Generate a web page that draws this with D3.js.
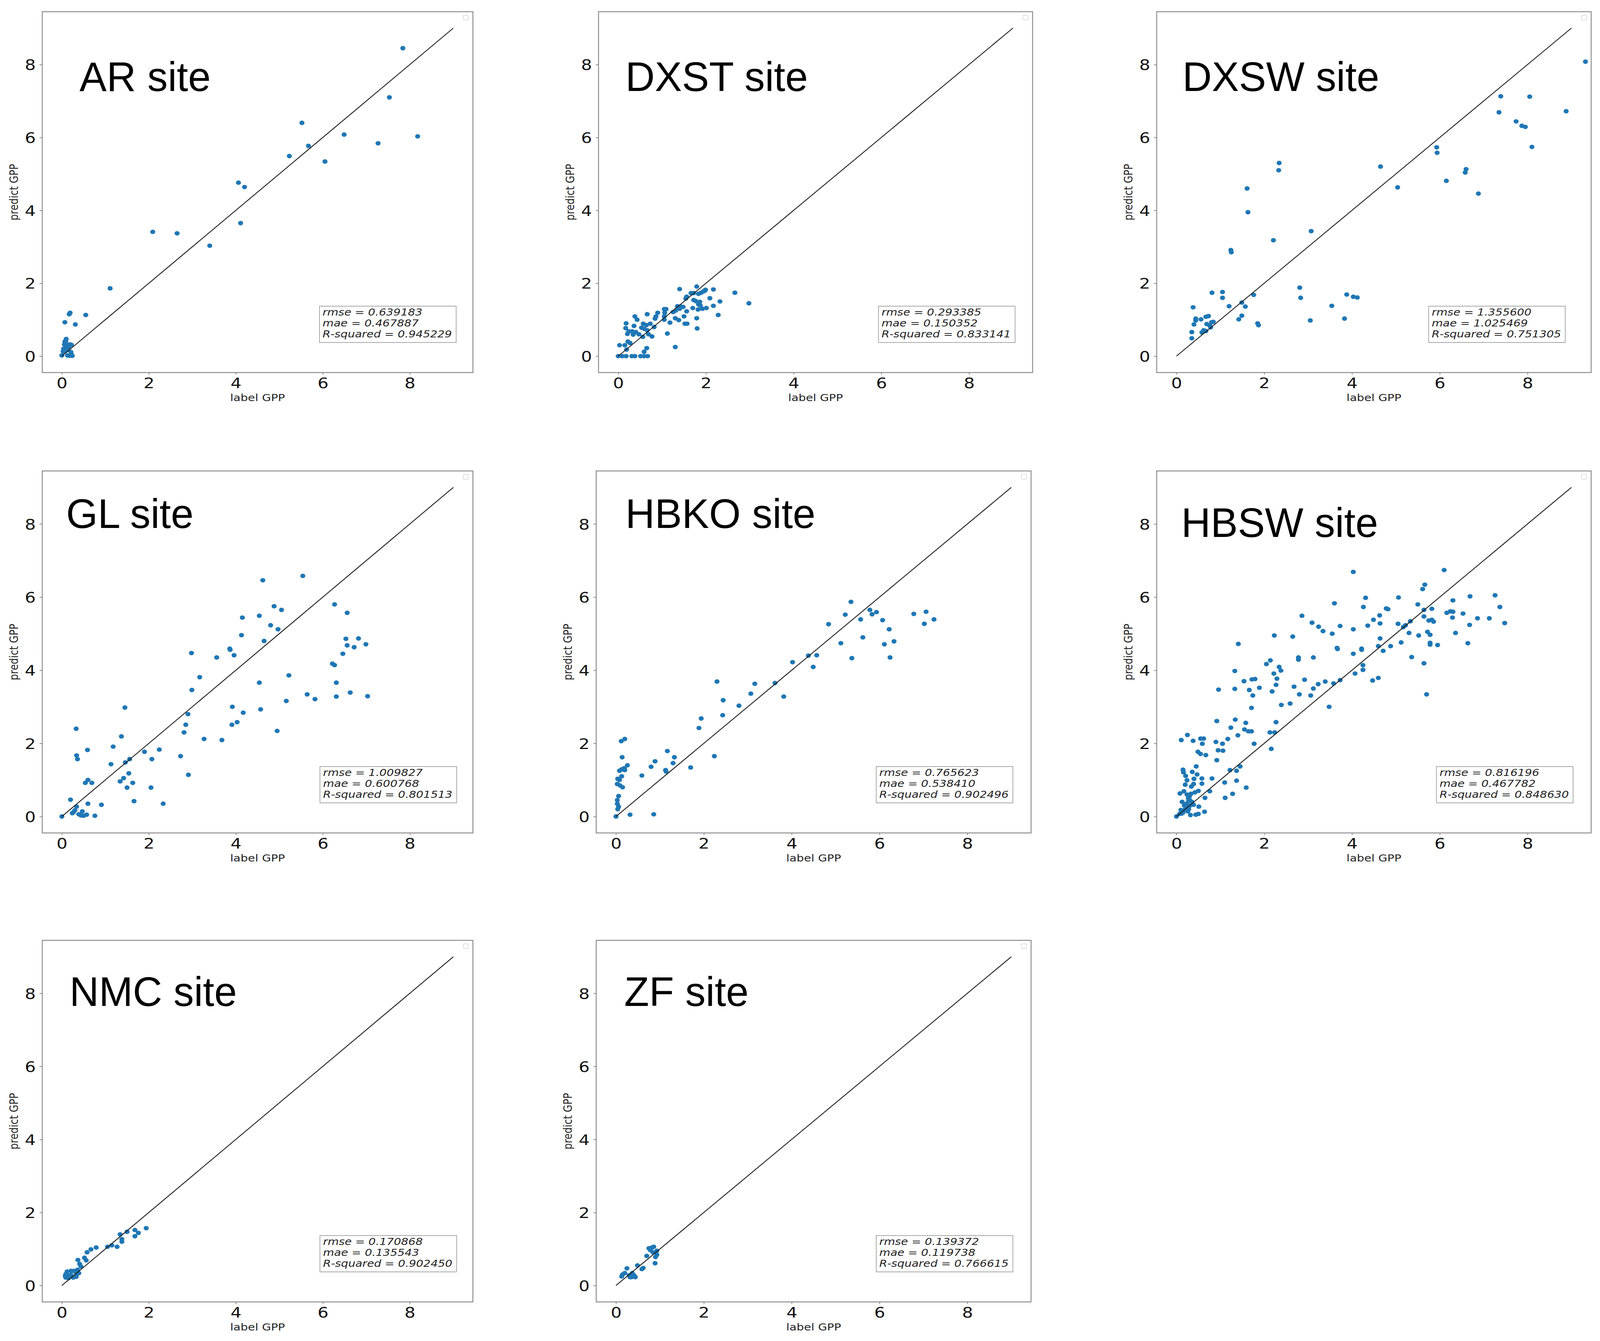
<!DOCTYPE html>
<html>
<head>
<meta charset="utf-8">
<script src="https://cdn.jsdelivr.net/npm/d3@7"></script>
<style>
  html, body { margin: 0; padding: 0; background: #fff; overflow: hidden; }
  svg { display: block; }
</style>
</head>
<body>
<div class="container"></div>
<script>
// ---- data ----
const siteNames = ["AR site", "DXST site", "DXSW site", "GL site", "HBKO site", "HBSW site", "NMC site", "ZF site"];

// [label GPP, predict GPP]
const arPoints = [
  [7.84,8.45],[7.53,7.10],[5.52,6.40],[5.67,5.77],[6.49,6.08],[8.18,6.03],[7.27,5.84],[5.23,5.49],[6.05,5.34],
  [4.06,4.76],[4.20,4.64],[4.11,3.65],[2.09,3.41],[2.65,3.37],[3.40,3.03],[1.11,1.86],[0.19,1.19],[0.17,1.15],
  [0.55,1.13],[0.07,0.93],[0.31,0.87],
  [0.10,0.47],[0.07,0.40],[0.09,0.41],[0.06,0.32],[0.10,0.34],[0.04,0.20],[0.03,0.13],[0.00,0.02],[0.09,0.27],
  [0.13,0.31],[0.19,0.32],[0.22,0.31],[0.16,0.22],[0.13,0.17],[0.21,0.11],[0.22,0.04],[0.18,0.01],[0.13,0.02],
  [0.24,0.01],[0.07,0.13],[0.12,0.24],[0.08,0.36]
];

const dxstPoints = [
  [1.40,1.84],[1.79,1.91],[2.17,1.83],[2.66,1.74],[2.98,1.45],[1.99,1.82],[1.95,1.78],[1.89,1.74],[1.83,1.71],
  [1.72,1.73],[1.66,1.73],[1.98,1.80],[1.56,1.63],[1.54,1.58],[2.09,1.59],[2.32,1.50],[2.17,1.38],[2.28,1.13],
  [1.72,1.54],[1.77,1.51],[1.86,1.49],[1.83,1.42],[1.87,1.39],[1.70,1.32],[1.82,1.28],[1.92,1.30],[2.01,1.32],
  [1.79,1.04],[1.80,0.76],[1.56,1.23],[1.50,1.09],[1.38,0.99],[1.30,1.04],[1.48,1.35],[1.43,1.36],[1.35,1.37],
  [1.40,1.30],[1.31,1.25],[1.25,1.21],[1.52,0.89],[1.57,0.89],[1.18,0.92],[1.12,0.62],[1.30,0.25],[1.05,1.29],
  [1.09,1.29],[1.06,1.19],[1.05,1.09],[1.05,1.00],[0.90,1.19],[0.86,1.09],[0.84,1.03],[0.66,1.15],[0.38,1.09],
  [0.43,1.00],[0.18,0.90],[0.36,0.83],[0.17,0.77],[0.57,0.89],[0.73,0.89],[0.64,0.85],[0.53,0.78],[0.59,0.75],
  [0.82,0.80],[0.66,0.71],[0.24,0.68],[0.32,0.68],[0.40,0.66],[0.21,0.61],[0.34,0.59],[0.47,0.60],[0.56,0.53],
  [0.69,0.60],[0.77,0.54],[0.22,0.40],[0.27,0.36],[0.15,0.30],[0.03,0.30],[0.19,0.18],[0.65,0.22],[0.59,0.12],
  [0.00,0.00],[0.09,0.00],[0.18,0.00],[0.31,0.00],[0.38,0.00],[0.51,0.00],[0.59,0.00],[0.67,0.00]
];

const dxswPoints = [
  [9.32,8.08],[7.39,7.13],[8.05,7.12],[7.35,6.69],[8.88,6.72],[7.74,6.44],[7.87,6.32],[7.95,6.29],[8.10,5.74],
  [5.93,5.73],[5.94,5.58],[6.15,4.81],[6.58,5.04],[6.60,5.13],[6.88,4.46],[4.65,5.20],[5.04,4.63],[2.34,5.30],
  [2.33,5.10],[1.61,4.60],[1.63,3.95],[3.07,3.43],[2.21,3.18],[1.24,2.91],[1.25,2.85],[2.81,1.88],[2.83,1.60],
  [3.88,1.69],[4.03,1.63],[4.12,1.61],[3.54,1.38],[3.83,1.03],[3.05,0.98],[1.85,0.90],[1.87,0.85],[1.76,1.68],
  [1.57,1.36],[1.49,1.47],[1.49,1.11],[1.42,1.01],[1.20,1.37],[1.05,1.76],[1.05,1.60],[0.81,1.74],[0.38,1.34],
  [0.35,0.66],[0.35,0.49],[0.40,0.87],[0.44,1.03],[0.44,0.98],[0.56,1.01],[0.67,1.08],[0.73,1.10],[0.69,0.88],
  [0.78,0.79],[0.84,0.94],[0.62,0.71],[0.67,0.69],[0.58,0.65],[0.76,0.84],[0.80,0.93]
];

const glPoints = [
  [5.54,6.58],[4.62,6.46],[6.27,5.80],[6.56,5.57],[4.88,5.75],[5.05,5.65],[4.54,5.49],[4.15,5.44],[4.80,5.23],
  [4.97,5.12],[4.13,4.96],[4.65,4.80],[3.86,4.59],[3.87,4.56],[3.96,4.41],[3.56,4.35],[2.98,4.47],[3.17,3.81],
  [2.99,3.46],[6.53,4.86],[6.82,4.87],[6.56,4.68],[6.72,4.63],[6.99,4.71],[6.46,4.45],[6.22,4.18],[6.27,4.14],
  [6.31,3.66],[5.22,3.86],[4.54,3.66],[6.63,3.39],[6.31,3.28],[7.03,3.29],[5.64,3.34],[5.82,3.21],[5.16,3.16],
  [4.57,2.93],[3.92,3.00],[4.17,2.84],[3.91,2.51],[4.03,2.58],[4.95,2.34],[2.90,2.80],[2.85,2.51],[2.81,2.30],
  [3.27,2.12],[3.68,2.09],[2.73,1.65],[2.91,1.14],[2.24,1.83],[2.07,1.57],[1.90,1.77],[2.05,0.79],[2.33,0.35],
  [1.45,2.98],[1.37,2.19],[1.18,1.91],[1.13,1.43],[1.46,1.48],[1.56,1.57],[1.54,1.18],[1.42,1.05],[1.34,0.96],
  [1.63,0.92],[1.50,0.79],[1.66,0.42],[0.33,2.40],[0.34,1.67],[0.36,1.57],[0.59,1.82],[0.60,1.00],[0.54,0.92],
  [0.69,0.92],[0.60,0.35],[0.91,0.32],[0.20,0.46],[0.34,0.27],[0.30,0.17],[0.24,0.09],[0.47,0.14],[0.39,0.06],
  [0.50,0.02],[0.57,0.05],[0.76,0.02],[0.00,0.00],[0.27,0.12],[0.44,0.03]
];

const hbkoPoints = [
  [5.35,5.87],[5.22,5.52],[4.84,5.26],[5.78,5.65],[5.83,5.53],[5.93,5.59],[5.57,5.39],[6.07,5.37],[6.22,5.12],
  [5.62,4.90],[5.12,4.74],[6.11,4.71],[6.33,4.79],[5.37,4.33],[6.24,4.35],[6.78,5.54],[7.06,5.60],[7.02,5.27],
  [7.24,5.39],[4.38,4.40],[4.57,4.41],[4.02,4.22],[4.49,4.09],[3.62,3.65],[3.16,3.63],[2.30,3.69],[3.07,3.36],
  [3.82,3.28],[2.44,3.18],[2.80,3.03],[2.43,2.77],[1.94,2.68],[1.89,2.42],[2.24,1.65],[1.70,1.34],[1.17,1.79],
  [1.33,1.62],[1.30,1.46],[1.13,1.27],[1.14,1.23],[0.89,1.51],[0.80,1.36],[0.59,1.12],[0.86,0.06],[0.32,0.05],
  [0.00,0.00],[0.12,2.06],[0.20,2.12],[0.14,1.62],[0.26,1.40],[0.19,1.32],[0.13,1.29],[0.08,1.25],[0.20,1.27],
  [0.13,1.10],[0.04,1.03],[0.08,1.00],[0.03,0.89],[0.09,0.85],[0.15,0.80],[0.06,0.56],[0.03,0.45],[0.03,0.35],
  [0.06,0.27],[0.04,0.20]
];

const hbswPoints = [
  [4.03,6.69],[6.10,6.74],[5.66,6.34],[5.61,6.22],[7.26,6.05],[6.69,6.02],[5.06,5.99],[4.31,5.98],[6.30,5.91],
  [3.60,5.83],[5.50,5.80],[4.26,5.73],[7.37,5.73],[4.78,5.69],[4.82,5.67],[5.82,5.68],[5.64,5.65],[6.16,5.57],
  [6.24,5.61],[6.30,5.60],[6.53,5.55],[2.86,5.49],[4.63,5.50],[5.64,5.47],[6.86,5.42],[7.13,5.42],[6.29,5.44],
  [5.75,5.36],[5.82,5.38],[5.86,5.33],[4.49,5.38],[5.33,5.34],[3.09,5.30],[7.48,5.29],[4.64,5.28],[5.05,5.27],
  [6.68,5.24],[5.22,5.23],[5.17,5.18],[3.24,5.19],[4.36,5.22],[3.73,5.21],[4.03,5.12],[3.34,5.07],[3.55,5.00],
  [5.30,5.02],[6.36,5.02],[2.23,4.95],[2.65,4.92],[5.52,4.95],[5.78,4.97],[5.72,5.05],[1.41,4.72],[6.64,4.74],
  [5.12,4.76],[4.64,4.87],[3.66,4.61],[3.67,4.58],[4.22,4.59],[4.22,4.56],[4.60,4.66],[4.88,4.66],[5.78,4.70],
  [5.95,4.69],[5.78,4.75],[4.71,4.53],[4.03,4.45],[5.36,4.36],[3.12,4.35],[2.78,4.35],[2.78,4.29],[2.14,4.27],
  [2.05,4.17],[5.64,4.19],[4.25,4.14],[2.34,4.09],[2.38,3.99],[2.22,3.91],[1.33,3.98],[4.07,3.91],[4.25,4.01],
  [4.60,3.79],[4.47,3.72],[2.29,3.77],[2.92,3.74],[3.39,3.69],[3.58,3.64],[3.73,3.73],[1.54,3.70],[1.72,3.75],
  [1.79,3.76],[3.23,3.62],[2.27,3.60],[3.12,3.50],[2.68,3.55],[1.89,3.52],[1.66,3.46],[1.33,3.49],[0.96,3.47],
  [2.18,3.42],[2.80,3.34],[1.74,3.31],[3.06,3.31],[5.70,3.34],[2.39,3.05],[2.59,3.09],[3.48,3.00],[1.71,2.97],
  [1.34,2.65],[0.92,2.61],[1.58,2.56],[2.27,2.58],[1.24,2.43],[1.55,2.38],[1.64,2.33],[1.71,2.33],[2.13,2.30],
  [2.24,2.30],[1.40,2.22],
  [0.25,2.23],[0.11,2.09],[0.38,2.07],[0.55,2.13],[0.62,2.13],[0.59,1.99],[0.90,2.04],[1.05,1.99],[1.17,2.12],
  [0.95,1.81],[1.06,1.80],[0.49,1.77],[0.55,1.71],[0.67,1.68],[1.77,1.99],[2.16,1.85],[0.92,1.54],[0.45,1.37],
  [0.15,1.28],[0.16,1.21],[0.36,1.22],[0.47,1.15],[0.21,1.11],[0.24,0.99],[0.40,1.03],[0.58,1.04],[0.58,0.90],
  [0.81,1.04],[0.20,0.87],[0.39,0.89],[0.34,0.82],[0.50,0.70],[0.17,0.69],[0.08,0.63],[0.24,0.60],[0.33,0.62],
  [0.42,0.66],[0.76,0.69],[0.65,0.51],[0.29,0.53],[0.13,0.40],[0.28,0.43],[0.23,0.35],[0.39,0.32],[0.51,0.27],
  [0.10,0.18],[0.20,0.20],[0.26,0.14],[0.32,0.04],[0.44,0.05],[0.50,0.07],[0.64,0.13],[0.00,0.00],[0.07,0.07],
  [0.15,0.11],[1.22,1.27],[1.37,1.25],[1.45,1.37],[1.37,0.98],[1.10,0.93],[1.59,0.79],[1.28,0.62],[1.11,0.51],
  [0.27,0.50],[0.30,0.45],[0.25,0.28],[0.22,0.25],[0.35,0.40],[0.31,0.30],[0.18,0.30],[0.28,0.20],[0.12,0.08],
  [0.30,0.58]
];

const nmcPoints = [
  [1.94,1.57],[1.68,1.52],[1.76,1.44],[1.68,1.35],[1.50,1.47],[1.34,1.40],[1.38,1.27],[1.38,1.20],[1.27,1.06],
  [1.15,1.10],[1.05,1.06],[0.79,1.04],[0.67,0.99],[0.58,0.91],[0.52,0.76],[0.56,0.69],[0.37,0.70],[0.41,0.59],
  [0.44,0.52],[0.36,0.43],[0.39,0.34],[0.31,0.38],[0.27,0.40],[0.21,0.40],[0.12,0.38],[0.09,0.31],[0.09,0.22],
  [0.15,0.27],[0.21,0.29],[0.26,0.22],[0.33,0.24],[0.15,0.20],[0.34,0.31],[0.08,0.26]
];

const zfPoints = [
  [0.75,1.02],[0.82,1.04],[0.86,1.06],[0.78,0.97],[0.93,0.95],[0.84,0.91],[0.93,0.84],[0.90,0.78],[0.70,0.81],
  [0.89,0.61],[0.49,0.55],[0.62,0.48],[0.59,0.45],[0.25,0.47],[0.15,0.30],[0.20,0.34],[0.30,0.28],[0.35,0.23],
  [0.41,0.28],[0.37,0.34],[0.32,0.23],[0.44,0.23],[0.13,0.25]
];

const sitePoints = [arPoints, dxstPoints, dxswPoints, glPoints, hbkoPoints, hbswPoints, nmcPoints, zfPoints];

const rmseValues = ["0.639183", "0.293385", "1.355600", "1.009827", "0.765623", "0.816196", "0.170868", "0.139372"];
const maeValues  = ["0.467887", "0.150352", "1.025469", "0.600768", "0.538410", "0.467782", "0.135543", "0.119738"];
const r2Values   = ["0.945229", "0.833141", "0.751305", "0.801513", "0.902496", "0.848630", "0.902450", "0.766615"];

const tickValues = [0, 2, 4, 6, 8];
const axisDomain = [-0.45, 9.45];
const refLine = [[0, 0], [9, 9]];

// ---- layout ----
const W = 4165, H = 3434;
const stretch = 1.21;   // the figure is wider than tall, text is stretched the same way

const panels = [
  {x: 110,  y: 30,   w: 1121, h: 924},
  {x: 1558, y: 30,   w: 1130, h: 924},
  {x: 3011, y: 30,   w: 1131, h: 924},
  {x: 110,  y: 1206, w: 1121, h: 927},
  {x: 1552, y: 1206, w: 1132, h: 927},
  {x: 3011, y: 1206, w: 1131, h: 927},
  {x: 110,  y: 2408, w: 1121, h: 926},
  {x: 1552, y: 2408, w: 1132, h: 926}
];
const titleOffsets = [[97,203],[70,203],[67,203],[62,146],[76,146],[64,169],[71,168],[73,168]];
const statsLeft = [0.651, 0.652, 0.633, 0.652, 0.651, 0.651, 0.652, 0.651];

const mplFont = "'DejaVu Sans', sans-serif";
const frameColor = "#8a8a8a";

// fit the whole figure into the viewport whatever its real size
const svg = d3.select(".container")
  .append("svg")
    .attr("viewBox", "0 0 " + W + " " + H)
    .attr("preserveAspectRatio", "none")
    .attr("width", window.innerWidth || W)
    .attr("height", window.innerHeight || H);

svg.append("rect")
  .attr("width", W)
  .attr("height", H)
  .attr("fill", "#fff");

panels.forEach((p, i) => drawPanel(p, i));

function drawPanel(p, i) {
  const g = svg.append("g").attr("class", "panel");

  const x = d3.scaleLinear().domain(axisDomain).range([p.x, p.x + p.w]);
  const y = d3.scaleLinear().domain(axisDomain).range([p.y + p.h, p.y]);

  // bottom axis
  const xAxis = g.append("g")
    .attr("transform", "translate(0," + (p.y + p.h) + ")")
    .call(d3.axisBottom(x).tickValues(tickValues).tickSize(5.5).tickFormat(d3.format("d")));
  styleAxis(xAxis);
  xAxis.selectAll("text")
    .attr("y", 40)
    .attr("dy", null)
    .attr("transform", "scale(" + stretch + ",1)");

  // left axis
  const yAxis = g.append("g")
    .attr("transform", "translate(" + p.x + ",0)")
    .call(d3.axisLeft(y).tickValues(tickValues).tickSize(7).tickFormat(d3.format("d")));
  styleAxis(yAxis);
  yAxis.selectAll("text")
    .attr("x", -17 / stretch)
    .attr("y", 13.5)
    .attr("dy", null)
    .attr("transform", "scale(" + stretch + ",1)");

  // points
  g.append("g")
    .selectAll("ellipse")
    .data(sitePoints[i])
    .join("ellipse")
      .attr("cx", d => x(d[0]))
      .attr("cy", d => y(d[1]))
      .attr("rx", 6.6)
      .attr("ry", 5.8)
      .attr("fill", "#1f77b4");

  // 1:1 line
  g.append("path")
    .datum(refLine)
    .attr("d", d3.line().x(d => x(d[0])).y(d => y(d[1])))
    .attr("fill", "none")
    .attr("stroke", "#1a1a1a")
    .attr("stroke-width", 2.2);

  // frame
  g.append("rect")
    .attr("x", p.x)
    .attr("y", p.y)
    .attr("width", p.w)
    .attr("height", p.h)
    .attr("fill", "none")
    .attr("stroke", frameColor)
    .attr("stroke-width", 2.4);

  // empty legend box
  g.append("rect")
    .attr("x", p.x + p.w - 25)
    .attr("y", p.y + 9)
    .attr("width", 13)
    .attr("height", 12)
    .attr("rx", 2)
    .attr("fill", "#fff")
    .attr("stroke", "#d4d4d4")
    .attr("stroke-width", 1.5);

  // axis labels
  g.append("text")
    .attr("transform", "translate(" + (p.x + p.w / 2) + "," + (p.y + p.h + 73) + ") scale(" + stretch + ",1)")
    .attr("text-anchor", "middle")
    .attr("font-family", mplFont)
    .attr("font-size", 25)
    .attr("fill", "#222")
    .text("label GPP");

  g.append("text")
    .attr("transform", "translate(" + (p.x - 63) + "," + (p.y + p.h / 2) + ") scale(" + stretch + ",1) rotate(-90)")
    .attr("text-anchor", "middle")
    .attr("font-family", mplFont)
    .attr("font-size", 25)
    .attr("fill", "#222")
    .text("predict GPP");

  // site title
  g.append("text")
    .attr("x", p.x + titleOffsets[i][0])
    .attr("y", p.y + titleOffsets[i][1])
    .attr("font-family", "'Liberation Sans', Arial, sans-serif")
    .attr("font-size", 106)
    .attr("fill", "#000")
    .text(siteNames[i]);

  // stats box
  const box = g.append("g");
  const tx = p.x + statsLeft[i] * p.w;
  const bottom = p.y + p.h;
  const lines = ["rmse = " + rmseValues[i], "mae = " + maeValues[i], "R-squared = " + r2Values[i]];
  let maxLen = 0;
  lines.forEach((s, k) => {
    const t = box.append("text")
      .attr("transform", "translate(" + tx + "," + (bottom - 146 + k * 28) + ") scale(" + stretch + ",1)")
      .attr("font-family", mplFont)
      .attr("font-style", "italic")
      .attr("font-size", 24.5)
      .attr("fill", "#222")
      .text(s);
    maxLen = Math.max(maxLen, t.node().getComputedTextLength() * stretch);
  });
  box.insert("rect", ":first-child")
    .attr("x", tx - 8)
    .attr("y", bottom - 170)
    .attr("width", maxLen + 19)
    .attr("height", 93)
    .attr("fill", "#fff")
    .attr("stroke", "#a8a8a8")
    .attr("stroke-width", 2);
}

function styleAxis(sel) {
  sel.select(".domain").remove();
  sel.selectAll(".tick line")
    .attr("stroke", frameColor)
    .attr("stroke-width", 2);
  sel.selectAll(".tick text")
    .attr("font-family", mplFont)
    .attr("font-size", 37)
    .attr("fill", "#111");
}
</script>
</body>
</html>
